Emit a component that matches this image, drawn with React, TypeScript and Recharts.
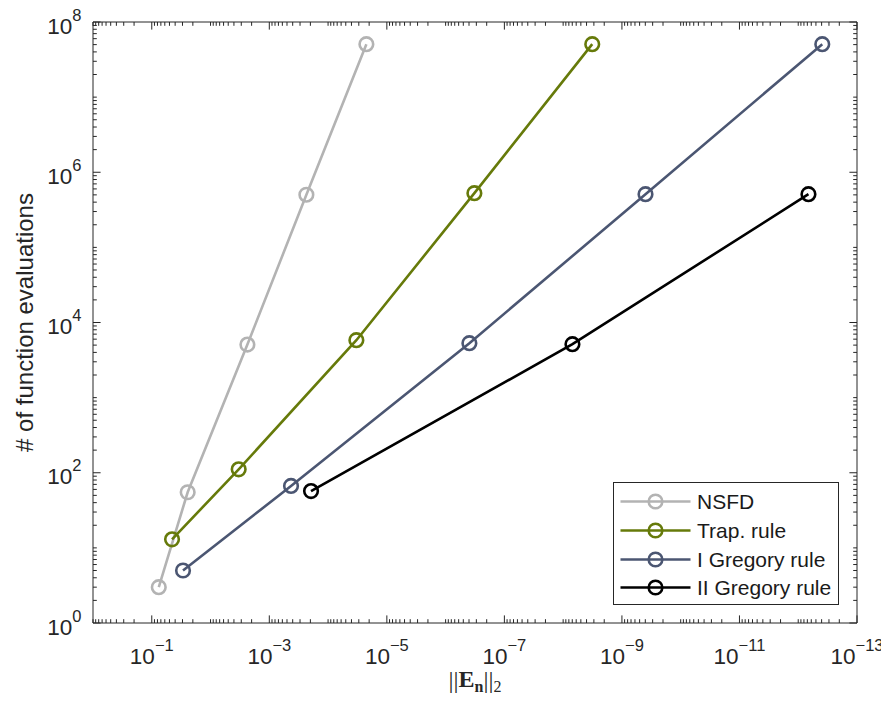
import React from 'react';
import { LineChart, Line, XAxis, YAxis, Legend } from 'recharts';

// ---- data ----
const nsfdErr = [7.6e-2, 2.45e-2, 2.36e-3, 2.34e-4, 2.23e-5];
const nsfdEvals = [3, 55, 5080, 5.02e5, 5.07e7];

const trapErr = [4.52e-2, 3.32e-3, 3.3e-5, 3.24e-7, 3.2e-9];
const trapEvals = [13, 111, 5810, 5.27e5, 5.07e7];

const greg1Err = [2.94e-2, 4.27e-4, 3.94e-7, 3.97e-10, 3.9e-13];
const greg1Evals = [5, 66.7, 5300, 5.1e5, 5.07e7];

const greg2Err = [1.95e-4, 6.95e-9, 6.7e-13];
const greg2Evals = [57, 5140, 5.1e5];

const seriesNames = ['NSFD', 'Trap. rule', 'I Gregory rule', 'II Gregory rule'];
const seriesColors = ['#b3b3b3', '#667a0a', '#4b5672', '#000000'];

const xMajorTicks = [1e-1, 1e-3, 1e-5, 1e-7, 1e-9, 1e-11, 1e-13];
const xTickExponents = ['\u22121', '\u22123', '\u22125', '\u22127', '\u22129', '\u221211', '\u221213'];
const yMajorTicks = [1, 1e2, 1e4, 1e6, 1e8];
const yTickExponents = ['0', '2', '4', '6', '8'];

const xDomain = [1e-13, 1];
const yDomain = [1, 1e8];

// minor tick positions (decoration only)
const xDecades = [0, -1, -2, -3, -4, -5, -6, -7, -8, -9, -10, -11, -12, -13];
const yDecades = [0, 1, 2, 3, 4, 5, 6, 7, 8];
const minorMultipliers = [2, 3, 4, 5, 6, 7, 8, 9];

const xMinorTicks: number[] = [];
xDecades.forEach((d) => {
  const v = Math.pow(10, d);
  if (!xMajorTicks.some((t) => Math.abs(Math.log10(t) - d) < 1e-9)) xMinorTicks.push(v);
  if (d > -13) minorMultipliers.forEach((m) => xMinorTicks.push(m * Math.pow(10, d - 1)));
});
const yMinorTicks: number[] = [];
yDecades.forEach((d) => {
  const v = Math.pow(10, d);
  if (!yMajorTicks.some((t) => Math.abs(Math.log10(t) - d) < 1e-9)) yMinorTicks.push(v);
  if (d < 8) minorMultipliers.forEach((m) => yMinorTicks.push(m * v));
});

const toPoints = (xs: number[], ys: number[]) => xs.map((x, i) => ({ x, y: ys[i] }));
const seriesData = [
  toPoints(nsfdErr, nsfdEvals),
  toPoints(trapErr, trapEvals),
  toPoints(greg1Err, greg1Evals),
  toPoints(greg2Err, greg2Evals),
];

const AX = '#262626';
const SANS = '"Liberation Sans", Arial, Helvetica, sans-serif';
const SERIF = '"Liberation Serif", "DejaVu Serif", serif';

const EmptyTick = () => <g />;

const XTick = (props: any) => {
  const { x, y, payload } = props;
  const idx = xMajorTicks.findIndex((t) => Math.abs(t - payload.value) / t < 1e-6);
  if (idx < 0) return null;
  return (
    <text x={x} y={y + 40.5} textAnchor="middle" fontFamily={SANS} fontSize={22.5} fill={AX}>
      <tspan>10</tspan>
      <tspan dy={-13} fontSize={16.5}>{xTickExponents[idx]}</tspan>
    </text>
  );
};

const YTick = (props: any) => {
  const { x, y, payload } = props;
  const idx = yMajorTicks.findIndex((t) => Math.abs(t - payload.value) / t < 1e-6);
  if (idx < 0) return null;
  return (
    <text x={x - 11.5} y={y + 11.5} textAnchor="end" fontFamily={SANS} fontSize={22.5} fill={AX}>
      <tspan>10</tspan>
      <tspan dy={-13} fontSize={16.5}>{yTickExponents[idx]}</tspan>
    </text>
  );
};

const YTitle = (props: any) => {
  const vb = props.viewBox || { x: 0, y: 22, width: 93, height: 601 };
  const cx = vb.x + 33;
  const cy = vb.y + vb.height / 2;
  return (
    <text x={cx} y={cy} transform={`rotate(-90, ${cx}, ${cy})`} textAnchor="middle" fontFamily={SANS} fontSize={24} fill={AX}>
      # of function evaluations
    </text>
  );
};

const XTitle = (props: any) => {
  const vb = props.viewBox || { x: 93, y: 623, width: 764, height: 78 };
  const cx = vb.x + vb.width / 2;
  const cy = vb.y + 64;
  return (
    <text x={cx} y={cy} textAnchor="middle" fontFamily={SERIF} fontSize={24} fill={AX}>
      <tspan fontSize={25} dy={2}>||</tspan>
      <tspan fontWeight="bold" dy={-2}>E</tspan>
      <tspan fontWeight="bold" fontSize={16} dy={5}>n</tspan>
      <tspan fontSize={25} dy={-3}>||</tspan>
      <tspan fontSize={16} dy={3}>2</tspan>
    </text>
  );
};

const LegendBox = (props: any) => {
  const payload = [...(props.payload || [])].sort(
    (a: any, b: any) => seriesNames.indexOf(a.value) - seriesNames.indexOf(b.value)
  );
  return (
    <div
      style={{
        width: 226,
        height: 123,
        border: `1px solid ${AX}`,
        background: '#fff',
        boxSizing: 'border-box',
        position: 'relative',
      }}
    >
      {payload.map((p: any, i: number) => (
        <div
          key={p.value}
          style={{
            position: 'absolute',
            left: 0,
            top: 4 + i * 28.8,
            height: 29,
            display: 'flex',
            alignItems: 'center',
            whiteSpace: 'nowrap',
          }}
        >
          <svg width={83} height={29} style={{ display: 'block' }}>
            <line x1={6.5} x2={76.5} y1={14.5} y2={14.5} stroke={p.color} strokeWidth={2.6} />
            <circle cx={41.5} cy={14.5} r={6.8} fill="none" stroke={p.color} strokeWidth={2.6} />
          </svg>
          <span style={{ fontFamily: SANS, fontSize: 21, color: '#1a1a1a', lineHeight: '29px' }}>{p.value}</span>
        </div>
      ))}
    </div>
  );
};

const xCommon = {
  type: 'number' as const,
  dataKey: 'x',
  scale: 'log' as const,
  domain: xDomain,
  allowDataOverflow: true,
  reversed: true,
  interval: 0 as const,
};
const yCommon = {
  type: 'number' as const,
  dataKey: 'y',
  scale: 'log' as const,
  domain: yDomain,
  allowDataOverflow: true,
  interval: 0 as const,
};

const THIN = 0.01;
const tickStyle = { stroke: AX, strokeWidth: 1 };

export default function App() {
  return (
    <div style={{ margin: '-8px 0 -8px -8px', width: 889, height: 701 }}>
      <LineChart width={889} height={701} margin={{ top: 22, right: 32, bottom: 0, left: 0 }}>
        <XAxis
          {...xCommon}
          xAxisId="main"
          orientation="bottom"
          height={78}
          ticks={xMajorTicks}
          tick={<XTick />}
          tickLine={false}
          tickSize={0}
          tickMargin={0}
          axisLine={{ stroke: AX, strokeWidth: 1 }}
          label={{ content: (p: any) => <XTitle {...p} /> }}
        />
        <XAxis {...xCommon} xAxisId="bMaj" orientation="bottom" mirror height={THIN} ticks={xMajorTicks} tick={<EmptyTick />} tickSize={7.6} tickLine={tickStyle} axisLine={false} />
        <XAxis {...xCommon} xAxisId="bMin" orientation="bottom" mirror height={THIN} ticks={xMinorTicks} tick={<EmptyTick />} tickSize={3.8} tickLine={tickStyle} axisLine={false} />
        <XAxis {...xCommon} xAxisId="tMaj" orientation="top" mirror height={THIN} ticks={xMajorTicks} tick={<EmptyTick />} tickSize={7.6} tickLine={tickStyle} axisLine={{ stroke: AX }} />
        <XAxis {...xCommon} xAxisId="tMin" orientation="top" mirror height={THIN} ticks={xMinorTicks} tick={<EmptyTick />} tickSize={3.8} tickLine={tickStyle} axisLine={false} />

        <YAxis
          {...yCommon}
          yAxisId="main"
          orientation="left"
          width={93}
          ticks={yMajorTicks}
          tick={<YTick />}
          tickLine={false}
          tickSize={0}
          tickMargin={0}
          axisLine={{ stroke: AX, strokeWidth: 1 }}
          label={{ content: (p: any) => <YTitle {...p} /> }}
        />
        <YAxis {...yCommon} yAxisId="lMaj" orientation="left" mirror width={THIN} ticks={yMajorTicks} tick={<EmptyTick />} tickSize={7.6} tickLine={tickStyle} axisLine={false} />
        <YAxis {...yCommon} yAxisId="lMin" orientation="left" mirror width={THIN} ticks={yMinorTicks} tick={<EmptyTick />} tickSize={3.8} tickLine={tickStyle} axisLine={false} />
        <YAxis {...yCommon} yAxisId="rMaj" orientation="right" mirror width={THIN} ticks={yMajorTicks} tick={<EmptyTick />} tickSize={7.6} tickLine={tickStyle} axisLine={{ stroke: AX }} />
        <YAxis {...yCommon} yAxisId="rMin" orientation="right" mirror width={THIN} ticks={yMinorTicks} tick={<EmptyTick />} tickSize={3.8} tickLine={tickStyle} axisLine={false} />

        {seriesData.map((d, i) => (
          <Line
            key={seriesNames[i]}
            name={seriesNames[i]}
            data={d}
            dataKey="y"
            xAxisId="main"
            yAxisId="main"
            stroke={seriesColors[i]}
            strokeWidth={2.6}
            dot={{ r: 6.8, fill: 'none', stroke: seriesColors[i], strokeWidth: 2.6 }}
            activeDot={false}
            isAnimationActive={false}
          />
        ))}

        <Legend
          layout="vertical"
          align="center"
          verticalAlign="middle"
          content={<LegendBox />}
          wrapperStyle={{ left: 613, top: 482, width: 226, height: 123 }}
        />
      </LineChart>
    </div>
  );
}
